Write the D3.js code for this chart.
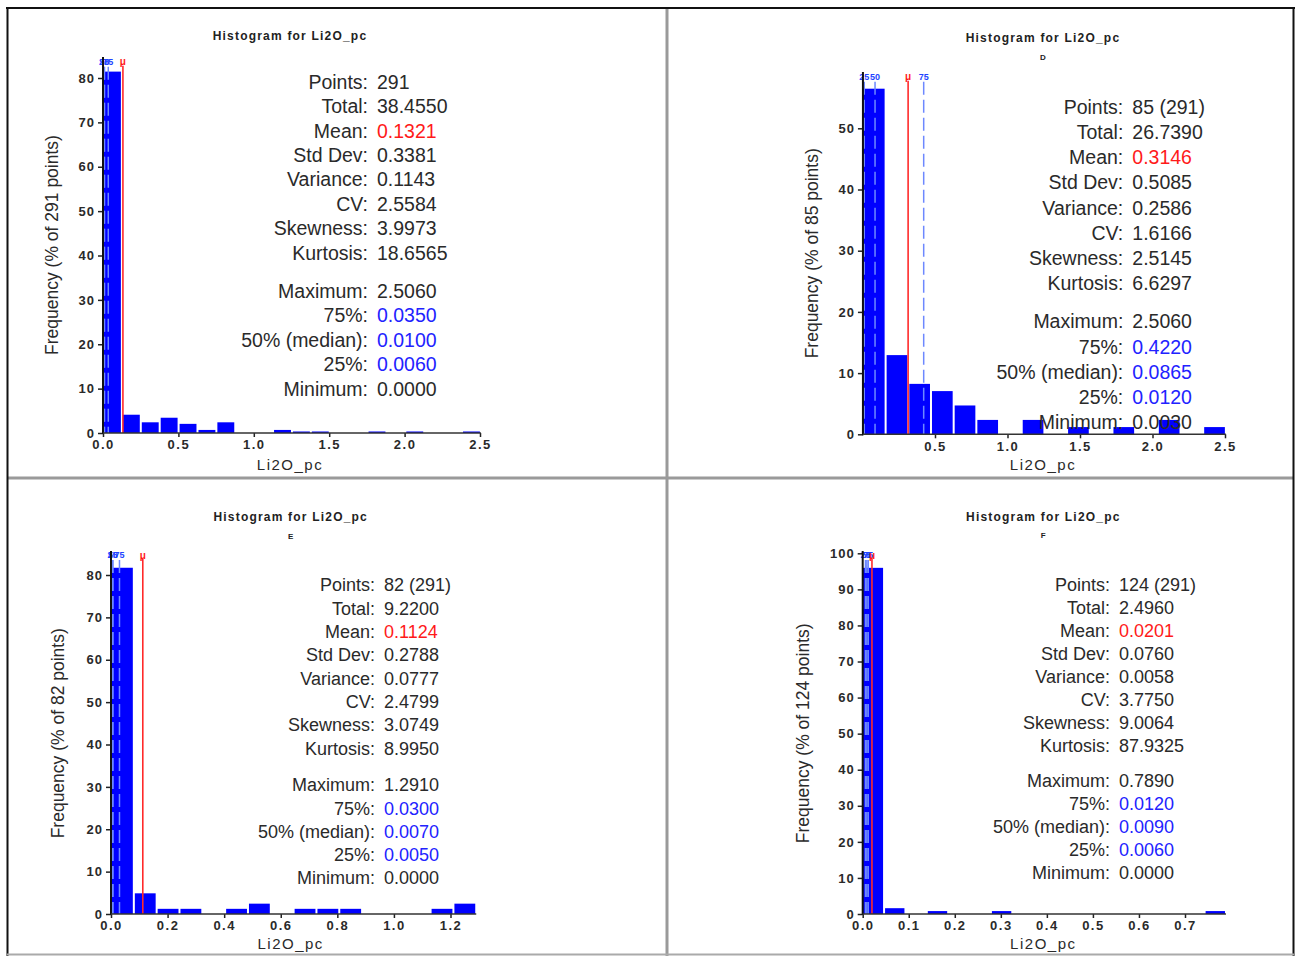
<!DOCTYPE html>
<html><head><meta charset="utf-8">
<script src="https://cdn.jsdelivr.net/npm/d3@7"></script>
<style>body{margin:0;background:#fff} svg{display:block}</style>
</head><body>
<svg id="chart" width="1295" height="956"></svg>
<script>
// ---------------- DATA ----------------
const chartTitle = "Histogram for Li2O_pc";
const xAxisTitle = "Li2O_pc";
const subtitles = ["", "D", "E", "F"];
const pointCounts = [291, 85, 82, 124];
const binMin = [0, 0.003, 0, 0];
const binMax = [2.506, 2.506, 1.291, 0.789];
const binCount = [20, 16, 16, 17];

// frequencies (% of points) per bin
const freqAll = [81.44, 4.12, 2.41, 3.44, 2.06, 0.69, 2.41, 0, 0, 0.69, 0.34, 0.34, 0, 0, 0.34, 0, 0.34, 0, 0, 0.34];
const freqD = [56.47, 12.94, 8.24, 7.06, 4.71, 2.35, 0, 2.35, 0, 1.18, 0, 1.18, 0, 2.35, 0, 1.18];
const freqE = [81.71, 4.88, 1.22, 1.22, 0, 1.22, 2.44, 0, 1.22, 1.22, 1.22, 0, 0, 0, 1.22, 2.44];
const freqF = [95.97, 1.61, 0, 0.81, 0, 0, 0.81, 0, 0, 0, 0, 0, 0, 0, 0, 0, 0.81];

const meanValues = [0.1321, 0.3146, 0.1124, 0.0201];
const q25Values = [0.0060, 0.0120, 0.0050, 0.0060];
const q50Values = [0.0100, 0.0865, 0.0070, 0.0090];
const q75Values = [0.0350, 0.4220, 0.0300, 0.0120];

const statLabels = ["Points:", "Total:", "Mean:", "Std Dev:", "Variance:", "CV:", "Skewness:", "Kurtosis:",
                    "Maximum:", "75%:", "50% (median):", "25%:", "Minimum:"];
const statsAll = ["291", "38.4550", "0.1321", "0.3381", "0.1143", "2.5584", "3.9973", "18.6565",
                  "2.5060", "0.0350", "0.0100", "0.0060", "0.0000"];
const statsD = ["85 (291)", "26.7390", "0.3146", "0.5085", "0.2586", "1.6166", "2.5145", "6.6297",
                "2.5060", "0.4220", "0.0865", "0.0120", "0.0030"];
const statsE = ["82 (291)", "9.2200", "0.1124", "0.2788", "0.0777", "2.4799", "3.0749", "8.9950",
                "1.2910", "0.0300", "0.0070", "0.0050", "0.0000"];
const statsF = ["124 (291)", "2.4960", "0.0201", "0.0760", "0.0058", "3.7750", "9.0064", "87.9325",
                "0.7890", "0.0120", "0.0090", "0.0060", "0.0000"];

const xTicksAll = [0, 0.5, 1.0, 1.5, 2.0, 2.5];
const xTicksD = [0.5, 1.0, 1.5, 2.0, 2.5];
const xTicksE = [0, 0.2, 0.4, 0.6, 0.8, 1.0, 1.2];
const xTicksF = [0, 0.1, 0.2, 0.3, 0.4, 0.5, 0.6, 0.7];
const yTicksAll = [0, 10, 20, 30, 40, 50, 60, 70, 80];
const yTicksD = [0, 10, 20, 30, 40, 50];
const yTicksE = [0, 10, 20, 30, 40, 50, 60, 70, 80];
const yTicksF = [0, 10, 20, 30, 40, 50, 60, 70, 80, 90, 100];

// ---------------- LAYOUT ----------------
const layouts = [
  {xd:[0,2.5], xr:[103,480], yd:[0,80], yr:[433,78], axisTop:57, markY:61.7, titleX:290, titleY:36, subY:0,
   colonX:368, rowY:81.7, rowStep:24.4, gap:14, statFont:19.5, xLabY:465, yLabX:52, yLabY:245},
  {xd:[0.5,2.5], xr:[935,1225], yd:[0,50], yr:[434.3,128.3], axisTop:72, markY:76.7, titleX:1043, titleY:37.3, subY:56.7,
   colonX:1123.3, rowY:106.7, rowStep:25.2, gap:13, statFont:19.5, xLabY:465, yLabX:811.7, yLabY:253.3},
  {xd:[0,1.2], xr:[111,450.5], yd:[0,80], yr:[914,575], axisTop:551, markY:555, titleX:290.7, titleY:516.7, subY:536,
   colonX:375, rowY:585, rowStep:23.3, gap:13.4, statFont:18, xLabY:943.3, yLabX:58.3, yLabY:733.3},
  {xd:[0,0.7], xr:[862.7,1185], yd:[0,100], yr:[914,553.3], axisTop:551, markY:555, titleX:1043.3, titleY:516.7, subY:535,
   colonX:1110, rowY:585, rowStep:23.0, gap:12, statFont:18, xLabY:943.3, yLabX:803.3, yLabY:733.3}
];

const freqs = [freqAll, freqD, freqE, freqF];
const stats = [statsAll, statsD, statsE, statsF];
const xTicks = [xTicksAll, xTicksD, xTicksE, xTicksF];
const yTicks = [yTicksAll, yTicksD, yTicksE, yTicksF];

const svg = d3.select("#chart");
const FONT = "'Liberation Sans', Arial, sans-serif";

// frame
const frame = svg.append("g");
frame.append("line").attr("x1",667).attr("x2",667).attr("y1",7).attr("y2",956).attr("stroke","#9a9a9a").attr("stroke-width",3);
frame.append("line").attr("x1",7).attr("x2",1294).attr("y1",478).attr("y2",478).attr("stroke","#9a9a9a").attr("stroke-width",3);
frame.append("line").attr("x1",6).attr("x2",1295).attr("y1",8).attr("y2",8).attr("stroke","#111").attr("stroke-width",2);
frame.append("line").attr("x1",7.5).attr("x2",7.5).attr("y1",7).attr("y2",956).attr("stroke","#111").attr("stroke-width",2);
frame.append("line").attr("x1",1293.5).attr("x2",1293.5).attr("y1",7).attr("y2",956).attr("stroke","#111").attr("stroke-width",2);
frame.append("line").attr("x1",7).attr("x2",1294).attr("y1",954.5).attr("y2",954.5).attr("stroke","#aaa").attr("stroke-width",2);

layouts.forEach((L, i) => {
  const g = svg.append("g");
  const x = d3.scaleLinear().domain(L.xd).range(L.xr);
  const y = d3.scaleLinear().domain(L.yd).range(L.yr);
  const y0 = y(0);
  const axisX = x(binMin[i]);

  // bins
  const n = binCount[i];
  const w = (binMax[i] - binMin[i]) / n;
  const bins = freqs[i].map((f, k) => ({x0: binMin[i] + k * w, x1: binMin[i] + (k + 1) * w, f}));

  g.selectAll("rect.bar").data(bins.filter(b => b.f > 0)).join("rect")
    .attr("class","bar")
    .attr("x", b => x(b.x0) + (b.x0 === binMin[i] ? 0 : 1))
    .attr("width", b => x(b.x1) - x(b.x0) - (b.x0 === binMin[i] ? 1 : 2))
    .attr("y", b => y(b.f))
    .attr("height", b => y0 - y(b.f))
    .attr("fill", "#0000ff");

  // quartile lines
  const qs = [{v:q25Values[i], t:"25"}, {v:q50Values[i], t:"50"}, {v:q75Values[i], t:"75"}];
  qs.forEach(q => {
    g.append("line").attr("x1", x(q.v)).attr("x2", x(q.v))
      .attr("y1", L.markY + 5).attr("y2", y0)
      .attr("stroke", "#6d88ff").attr("stroke-width", 1.5).attr("stroke-dasharray", "13,5");
  });
  // mean line
  g.append("line").attr("x1", x(meanValues[i])).attr("x2", x(meanValues[i]))
    .attr("y1", L.markY + 4).attr("y2", y0)
    .attr("stroke", "#ff2a2a").attr("stroke-width", 1.6);

  // marker labels (they overlap in the original as well when quartiles are close)
  qs.forEach(q => {
    g.append("text").attr("x", x(q.v)).attr("y", L.markY).attr("dy","0.35em")
      .attr("text-anchor","middle").attr("font-family", FONT).attr("font-weight","bold")
      .attr("font-size", 9).attr("fill","#2244ff").text(q.t);
  });
  g.append("text").attr("x", x(meanValues[i])).attr("y", L.markY).attr("dy","0.35em")
    .attr("text-anchor","middle").attr("font-family", FONT).attr("font-weight","bold")
    .attr("font-size", 10).attr("fill","#ff1a1a").text("\u03bc");

  // y axis
  const yAxis = d3.axisLeft(y).tickValues(yTicks[i]).tickFormat(d3.format("d")).tickSize(5).tickPadding(3);
  const ya = g.append("g").attr("transform", `translate(${axisX},0)`).call(yAxis);
  ya.select(".domain").remove();
  ya.selectAll(".tick line").attr("stroke","#222").attr("stroke-width",1.5);
  ya.selectAll(".tick text").attr("font-family", FONT).attr("font-size", 13).attr("font-weight","bold")
    .attr("fill","#2a2a2a").attr("letter-spacing","1px");
  g.append("line").attr("x1", axisX).attr("x2", axisX).attr("y1", L.axisTop).attr("y2", y0 + 1)
    .attr("stroke","#111").attr("stroke-width",2);

  // x axis
  const xAxis = d3.axisBottom(x).tickValues(xTicks[i]).tickFormat(d3.format(".1f")).tickSize(4).tickPadding(3);
  const xa = g.append("g").attr("transform", `translate(0,${y0})`).call(xAxis);
  xa.select(".domain").remove();
  xa.selectAll(".tick line").attr("stroke","#222").attr("stroke-width",1.5);
  xa.selectAll(".tick text").attr("font-family", FONT).attr("font-size", 13).attr("font-weight","bold")
    .attr("fill","#2a2a2a").attr("letter-spacing","1.5px");
  g.append("line").attr("x1", axisX).attr("x2", x(binMax[i])).attr("y1", y0).attr("y2", y0)
    .attr("stroke","#333").attr("stroke-width",1.5);

  // titles
  g.append("text").attr("x", L.titleX).attr("y", L.titleY).attr("dy","0.35em").attr("text-anchor","middle")
    .attr("font-family", FONT).attr("font-weight","bold").attr("font-size", 12).attr("letter-spacing","1.2px")
    .attr("fill","#222").text(chartTitle);
  if (subtitles[i]) {
    g.append("text").attr("x", L.titleX).attr("y", L.subY).attr("dy","0.35em").attr("text-anchor","middle")
      .attr("font-family", FONT).attr("font-weight","bold").attr("font-size", 8).attr("fill","#222").text(subtitles[i]);
  }
  g.append("text").attr("x", L.titleX).attr("y", L.xLabY).attr("dy","0.35em").attr("text-anchor","middle")
    .attr("font-family", FONT).attr("font-size", 15).attr("letter-spacing","1.5px").attr("fill","#2a2a2a").text(xAxisTitle);
  g.append("text").attr("transform", `translate(${L.yLabX},${L.yLabY}) rotate(-90)`).attr("dy","0.35em")
    .attr("text-anchor","middle").attr("font-family", FONT).attr("font-size", 17.5).attr("fill","#2a2a2a")
    .text(`Frequency (% of ${pointCounts[i]} points)`);

  // stats block
  const sg = g.append("g").attr("font-family", FONT).attr("font-size", L.statFont);
  statLabels.forEach((lab, r) => {
    const yy = L.rowY + r * L.rowStep + (r >= 8 ? L.gap : 0);
    sg.append("text").attr("x", L.colonX).attr("y", yy).attr("dy","0.36em").attr("text-anchor","end")
      .attr("fill","#2a2a2a").text(lab);
    const col = r === 2 ? "#ff1a1a" : (r >= 9 && r <= 11 ? "#2222ff" : "#2a2a2a");
    sg.append("text").attr("x", L.colonX + 9).attr("y", yy).attr("dy","0.36em").attr("text-anchor","start")
      .attr("fill", col).text(stats[i][r]);
  });
});
</script>
</body></html>
